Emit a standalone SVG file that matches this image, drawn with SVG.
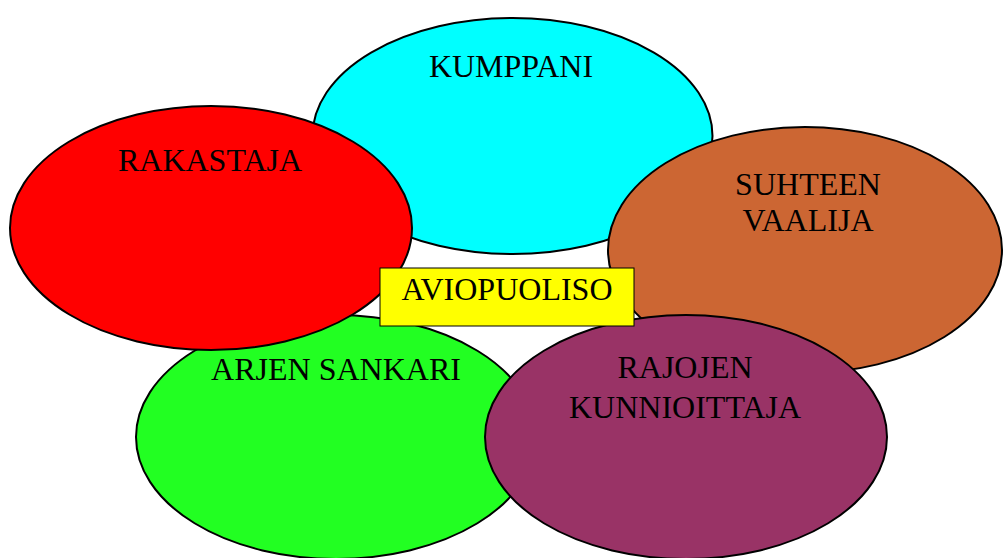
<svg xmlns="http://www.w3.org/2000/svg" width="1003" height="558" viewBox="0 0 1003 558">
<style>
.s{stroke:#000;stroke-width:2}
.t{font-family:"Liberation Serif","Times New Roman",serif;font-size:32px;fill:#000;text-anchor:middle}
</style>
<rect width="1003" height="558" fill="#fff"/>
<g id="kumppani"><ellipse class="s" cx="512.5" cy="136" rx="200" ry="118" fill="#00FFFF"/><text class="t" x="511" y="77">KUMPPANI</text></g>
<g id="suhteen-vaalija"><ellipse class="s" cx="805" cy="250" rx="197" ry="123" fill="#CC6633"/><text class="t" x="808" y="195">SUHTEEN</text><text class="t" x="808" y="231">VAALIJA</text></g>
<g id="arjen-sankari"><ellipse class="s" cx="336" cy="437" rx="200" ry="122" fill="#22FF22"/><text class="t" x="336" y="380">ARJEN SANKARI</text></g>
<g id="rakastaja"><ellipse class="s" cx="211" cy="228" rx="201" ry="122" fill="#FF0000"/><text class="t" x="210" y="171">RAKASTAJA</text></g>
<g id="rajojen-kunnioittaja"><ellipse class="s" cx="686" cy="437" rx="201" ry="122" fill="#993366"/><text class="t" x="685" y="378">RAJOJEN</text><text class="t" x="685" y="418">KUNNIOITTAJA</text></g>
<g id="aviopuoliso"><rect x="380" y="268" width="254" height="58" fill="#FFFF00" stroke="#000" stroke-width="1"/><text class="t" x="507" y="300">AVIOPUOLISO</text></g>
<g id="connectors"/>
</svg>
